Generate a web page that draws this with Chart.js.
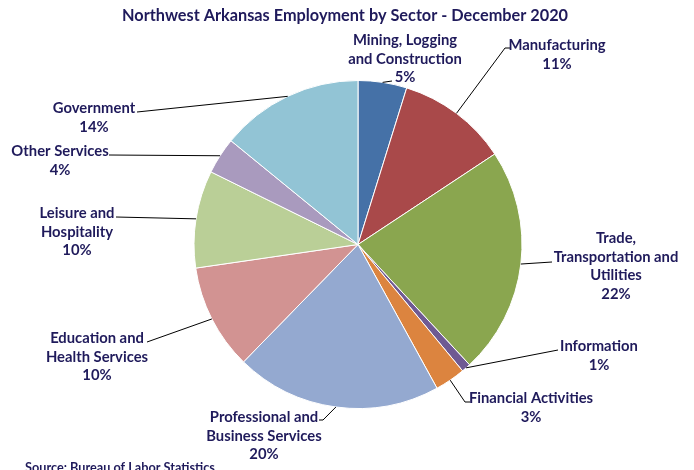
<!DOCTYPE html>
<html>
<head>
<meta charset="utf-8">
<script src="https://cdn.jsdelivr.net/npm/chart.js@4"></script>
<style>
  html, body { margin: 0; padding: 0; background: #fff; }
  #wrap { position: relative; width: 694px; height: 470px; }
</style>
</head>
<body>
<div id="wrap"><canvas id="chart" width="694" height="470"></canvas></div>
<script>
  const chartTitle = 'Northwest Arkansas Employment by Sector - December 2020';
  const sourceNote = 'Source: Bureau of Labor Statistics';

  const sectors = [
    ['Mining, Logging', 'and Construction'],
    ['Manufacturing'],
    ['Trade,', 'Transportation and', 'Utilities'],
    ['Information'],
    ['Financial Activities'],
    ['Professional and', 'Business Services'],
    ['Education and', 'Health Services'],
    ['Leisure and', 'Hospitality'],
    ['Other Services'],
    ['Government']
  ];
  const shares = [4.8, 10.9, 22.4, 0.9, 3.0, 20.3, 10.4, 9.6, 3.6, 14.1];
  const sliceColors = [
    '#4571a7', '#a9494a', '#8aa64f', '#6f5a93', '#dc843f',
    '#94a9d0', '#d29392', '#bacf97', '#a99abe', '#92c4d5'
  ];

  // label placement: centre x, first line y, leader points after the slice edge
  const labelLayout = [
    { x: 405, y: 40, leader: [[392, 81]] },
    { x: 557, y: 45, leader: [[505, 48], [510, 48]] },
    { x: 616, y: 238, leader: [[552, 262]] },
    { x: 599, y: 346, leader: [[558, 350]] },
    { x: 531, y: 398, leader: [[465, 402], [470, 402]] },
    { x: 264, y: 417, leader: [[323, 420], [319, 420]] },
    { x: 97, y: 338, leader: [[147, 342]] },
    { x: 77, y: 213, leader: [[116, 217]] },
    { x: 60, y: 151, leader: [[109, 155]] },
    { x: 94, y: 108, leader: [[137, 112]] }
  ];

  const TEXT = '#1f1a5b';
  const FONT = 'Lato, "Open Sans", sans-serif';

  const total = shares.reduce((a, b) => a + b, 0);

  const labelPlugin = {
    id: 'sectorLabels',
    afterDraw(chart) {
      const ctx = chart.ctx;
      const arcs = chart.getDatasetMeta(0).data;
      ctx.save();

      ctx.fillStyle = TEXT;
      ctx.textAlign = 'center';
      ctx.textBaseline = 'middle';
      ctx.font = 'bold 16.3px ' + FONT;
      ctx.fillText(chartTitle, 345, 16);

      arcs.forEach((arc, i) => {
        const p = arc.getProps(['x', 'y', 'startAngle', 'endAngle', 'outerRadius'], true);
        const mid = (p.startAngle + p.endAngle) / 2;
        const ex = p.x + Math.cos(mid) * p.outerRadius;
        const ey = p.y + Math.sin(mid) * p.outerRadius;
        const lay = labelLayout[i];

        ctx.strokeStyle = '#000';
        ctx.lineWidth = 1;
        ctx.beginPath();
        ctx.moveTo(ex, ey);
        lay.leader.forEach(([lx, ly]) => ctx.lineTo(lx, ly));
        ctx.stroke();

        const lines = sectors[i].concat([Math.round(shares[i] / total * 100) + '%']);
        ctx.font = 'bold 14.8px ' + FONT;
        lines.forEach((line, k) => ctx.fillText(line, lay.x, lay.y + k * 18.8));
      });

      ctx.textAlign = 'left';
      ctx.textBaseline = 'alphabetic';
      ctx.font = 'bold 12.7px ' + FONT;
      ctx.fillText(sourceNote, 25, 472);
      ctx.restore();
    }
  };

  new Chart(document.getElementById('chart'), {
    type: 'pie',
    data: {
      labels: sectors.map((s) => s.join(' ')),
      datasets: [{
        data: shares,
        backgroundColor: sliceColors,
        borderColor: '#ffffff',
        borderWidth: 1
      }]
    },
    options: {
      responsive: false,
      animation: false,
      layout: { padding: { top: 80, bottom: 61, left: 193, right: 171 } },
      plugins: {
        legend: { display: false },
        tooltip: { enabled: false }
      }
    },
    plugins: [labelPlugin]
  });
</script>
</body>
</html>
